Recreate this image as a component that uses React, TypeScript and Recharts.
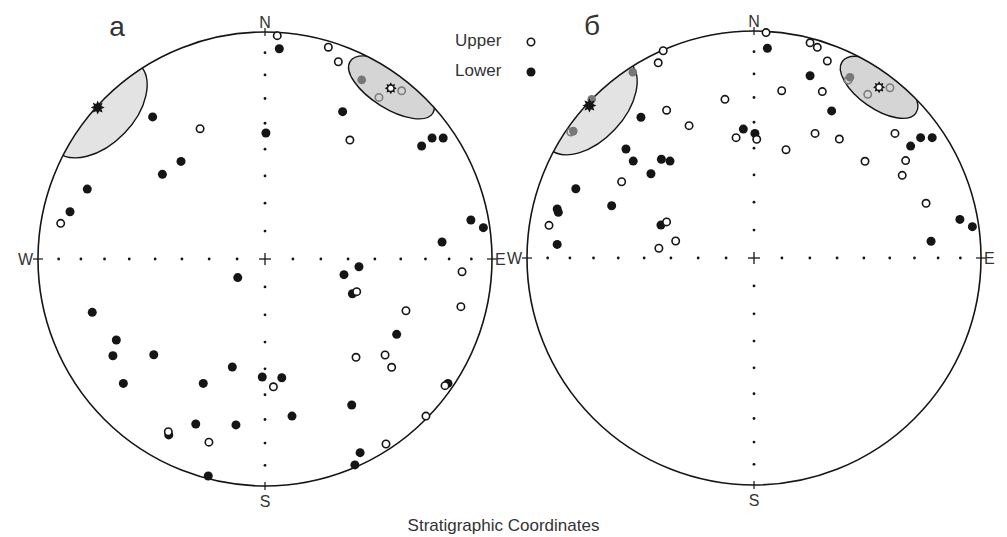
import { ScatterChart, Scatter, XAxis, YAxis } from "recharts";

const R = 227; // net radius, px (plot area is 2R square)
const FONT = "'Liberation Sans', Arial, Helvetica, sans-serif";
const INK = "#151515";
const TEXT = "#333";

// equal-area net ticks, every 10 degrees from the centre
const NET_TICKS = [0.123, 0.246, 0.366, 0.484, 0.598, 0.707, 0.811, 0.909];

type Pt = { x: number; y: number };

// ---- panel а ----
const A_UPPER: Pt[] = [
  { x: 0.054, y: 0.984 }, { x: 0.279, y: 0.933 }, { x: 0.323, y: 0.869 },
  { x: -0.286, y: 0.574 }, { x: 0.374, y: 0.524 }, { x: -0.9, y: 0.157 },
  { x: 0.404, y: -0.144 }, { x: 0.868, y: -0.056 }, { x: 0.863, y: -0.21 },
  { x: 0.621, y: -0.228 }, { x: 0.401, y: -0.433 }, { x: 0.529, y: -0.423 },
  { x: 0.558, y: -0.477 }, { x: 0.037, y: -0.563 }, { x: -0.247, y: -0.807 },
  { x: 0.709, y: -0.692 }, { x: 0.533, y: -0.815 }, { x: -0.426, y: -0.761 },
  { x: 0.793, y: -0.558 },
];
const A_LOWER: Pt[] = [
  { x: 0.063, y: 0.926 }, { x: 0.342, y: 0.649 }, { x: -0.495, y: 0.626 },
  { x: 0.004, y: 0.555 }, { x: 0.69, y: 0.498 }, { x: 0.736, y: 0.533 },
  { x: 0.785, y: 0.533 }, { x: -0.37, y: 0.43 }, { x: -0.452, y: 0.373 },
  { x: -0.783, y: 0.308 }, { x: -0.859, y: 0.208 }, { x: 0.907, y: 0.172 },
  { x: 0.962, y: 0.138 }, { x: 0.78, y: 0.075 }, { x: 0.414, y: -0.034 },
  { x: 0.348, y: -0.069 }, { x: -0.12, y: -0.082 }, { x: 0.385, y: -0.153 },
  { x: -0.761, y: -0.235 }, { x: -0.655, y: -0.357 }, { x: -0.67, y: -0.426 },
  { x: -0.49, y: -0.422 }, { x: 0.58, y: -0.332 }, { x: -0.144, y: -0.476 },
  { x: -0.012, y: -0.52 }, { x: 0.074, y: -0.523 }, { x: -0.624, y: -0.548 },
  { x: -0.272, y: -0.548 }, { x: 0.382, y: -0.643 }, { x: 0.119, y: -0.692 },
  { x: -0.305, y: -0.727 }, { x: -0.128, y: -0.731 }, { x: -0.424, y: -0.775 },
  { x: 0.806, y: -0.548 }, { x: 0.419, y: -0.853 }, { x: 0.396, y: -0.907 },
  { x: -0.25, y: -0.956 },
];
const A_UPPER_IN_CONE: Pt[] = [{ x: 0.502, y: 0.712 }, { x: 0.602, y: 0.741 }];
const A_LOWER_IN_CONE: Pt[] = [{ x: 0.426, y: 0.789 }];
const A_MEAN_LOWER: Pt[] = [{ x: -0.737, y: 0.667 }];
const A_MEAN_UPPER: Pt[] = [{ x: 0.554, y: 0.752 }];
const A_CONES = [
  { x: -0.737, y: 0.667, a: 0.264, b: 0.163, tilt: -46 },
  { x: 0.557, y: 0.756, a: 0.215, b: 0.093, tilt: 32 },
];

// ---- panel б ----
const B_UPPER: Pt[] = [
  { x: 0.053, y: 0.993 }, { x: 0.247, y: 0.948 }, { x: 0.279, y: 0.928 },
  { x: 0.323, y: 0.868 }, { x: -0.4, y: 0.913 }, { x: -0.422, y: 0.86 },
  { x: 0.122, y: 0.737 }, { x: 0.301, y: 0.733 }, { x: -0.128, y: 0.699 },
  { x: -0.385, y: 0.651 }, { x: -0.286, y: 0.583 }, { x: -0.079, y: 0.53 },
  { x: 0.012, y: 0.523 }, { x: 0.269, y: 0.549 }, { x: 0.376, y: 0.524 },
  { x: 0.141, y: 0.477 }, { x: 0.621, y: 0.549 }, { x: 0.489, y: 0.426 },
  { x: 0.668, y: 0.429 }, { x: 0.653, y: 0.364 }, { x: -0.583, y: 0.336 },
  { x: 0.758, y: 0.241 }, { x: -0.903, y: 0.144 }, { x: -0.385, y: 0.159 },
  { x: -0.345, y: 0.075 }, { x: -0.419, y: 0.043 },
];
const B_LOWER: Pt[] = [
  { x: 0.059, y: 0.924 }, { x: 0.247, y: 0.803 }, { x: 0.342, y: 0.648 },
  { x: -0.498, y: 0.62 }, { x: -0.047, y: 0.568 }, { x: 0.004, y: 0.549 },
  { x: -0.564, y: 0.48 }, { x: -0.532, y: 0.427 }, { x: -0.408, y: 0.435 },
  { x: -0.37, y: 0.427 }, { x: -0.454, y: 0.371 }, { x: 0.69, y: 0.493 },
  { x: 0.734, y: 0.53 }, { x: 0.785, y: 0.53 }, { x: -0.785, y: 0.305 },
  { x: -0.627, y: 0.23 }, { x: -0.867, y: 0.216 }, { x: -0.862, y: 0.201 },
  { x: -0.41, y: 0.145 }, { x: 0.907, y: 0.17 }, { x: 0.962, y: 0.138 },
  { x: -0.867, y: 0.06 }, { x: 0.78, y: 0.074 },
];
const B_UPPER_IN_CONE: Pt[] = [
  { x: 0.415, y: 0.784 }, { x: 0.501, y: 0.721 }, { x: 0.599, y: 0.75 },
  { x: -0.807, y: 0.555 },
];
const B_LOWER_IN_CONE: Pt[] = [
  { x: -0.534, y: 0.818 }, { x: 0.423, y: 0.796 }, { x: -0.715, y: 0.699 },
  { x: -0.796, y: 0.559 },
];
const B_MEAN_LOWER: Pt[] = [{ x: -0.725, y: 0.672 }];
const B_MEAN_UPPER: Pt[] = [{ x: 0.551, y: 0.752 }];
const B_CONES = [
  { x: -0.725, y: 0.672, a: 0.26, b: 0.154, tilt: -47 },
  { x: 0.551, y: 0.752, a: 0.198, b: 0.093, tilt: 35 },
];

const CONE_FILLS = ["#e3e3e3", "#d5d5d5"];

function starPoints(cx: number, cy: number, ro: number, ri: number, n = 8) {
  const pts: string[] = [];
  for (let i = 0; i < n * 2; i++) {
    const ang = -Math.PI / 2 + (i * Math.PI) / n;
    const r = i % 2 === 0 ? ro : ri;
    pts.push(`${cx + r * Math.cos(ang)},${cy + r * Math.sin(ang)}`);
  }
  return pts.join(" ");
}

const openDot = (p: any) => (
  <circle cx={p.cx} cy={p.cy} r={3.7} fill="#fff" stroke={INK} strokeWidth={1.6} />
);
const fullDot = (p: any) => <circle cx={p.cx} cy={p.cy} r={4.5} fill={INK} />;
const greyOpen = (p: any) => (
  <circle cx={p.cx} cy={p.cy} r={3.7} fill="none" stroke="#7d7d7d" strokeWidth={1.6} />
);
const greyFull = (p: any) => <circle cx={p.cx} cy={p.cy} r={4.3} fill="#777" />;
const tickDot = (p: any) => <circle cx={p.cx} cy={p.cy} r={1.4} fill={INK} />;
const starFull = (p: any) => (
  <polygon points={starPoints(p.cx, p.cy, 7, 4)} fill={INK} />
);
const starOpen = (p: any) => (
  <g>
    <polygon points={starPoints(p.cx, p.cy, 6, 3.8)} fill={INK} />
    <circle cx={p.cx} cy={p.cy} r={2.5} fill="#fff" />
  </g>
);

type NetProps = {
  id: string;
  title: string;
  titleDx: number;
  upper: Pt[];
  lower: Pt[];
  upperCone: Pt[];
  lowerCone: Pt[];
  meanLower: Pt[];
  meanUpper: Pt[];
  cones: { x: number; y: number; a: number; b: number; tilt: number }[];
  top: number;
  width: number;
};

function Net(props: NetProps) {
  const { id, title, titleDx, upper, lower, upperCone, lowerCone, meanLower, meanUpper, cones, top, width } = props;
  const ticks: Pt[] = NET_TICKS.flatMap((t) => [
    { x: t, y: 0 }, { x: -t, y: 0 }, { x: 0, y: t }, { x: 0, y: -t },
  ]);
  const coneData = cones.map((c, i) => ({ ...c, fill: CONE_FILLS[i] }));

  const clipShape = (p: any) => (
    <defs>
      <clipPath id={id}>
        <circle cx={p.cx} cy={p.cy} r={R} />
      </clipPath>
    </defs>
  );

  const coneShape = (p: any) => {
    const c = p.payload;
    return (
      <g clipPath={`url(#${id})`}>
        <ellipse
          cx={p.cx}
          cy={p.cy}
          rx={c.a * R}
          ry={c.b * R}
          transform={`rotate(${c.tilt} ${p.cx} ${p.cy})`}
          fill={c.fill}
          stroke={INK}
          strokeWidth={1.4}
        />
      </g>
    );
  };

  const frameShape = (p: any) => {
    const { cx, cy } = p;
    const lbl = { fontFamily: FONT, fontSize: 16, fill: TEXT };
    return (
      <g>
        <circle cx={cx} cy={cy} r={R} fill="none" stroke={INK} strokeWidth={1.6} />
        <line x1={cx - 6} x2={cx + 6} y1={cy} y2={cy} stroke={INK} strokeWidth={1.3} />
        <line x1={cx} x2={cx} y1={cy - 6} y2={cy + 6} stroke={INK} strokeWidth={1.3} />
        <line x1={cx - R - 5} x2={cx - R + 5} y1={cy} y2={cy} stroke={INK} strokeWidth={1.2} />
        <line x1={cx + R - 5} x2={cx + R + 5} y1={cy} y2={cy} stroke={INK} strokeWidth={1.2} />
        <line x1={cx} x2={cx} y1={cy - R - 4} y2={cy - R + 4} stroke={INK} strokeWidth={1.2} />
        <line x1={cx} x2={cx} y1={cy + R - 4} y2={cy + R + 4} stroke={INK} strokeWidth={1.2} />
        <text x={cx} y={cy - R - 4} textAnchor="middle" {...lbl}>N</text>
        <text x={cx} y={cy + R + 21} textAnchor="middle" {...lbl}>S</text>
        <text x={cx - R - 5} y={cy + 6} textAnchor="end" {...lbl}>W</text>
        <text x={cx + R + 3} y={cy + 6} textAnchor="start" {...lbl}>E</text>
        <text x={cx + titleDx} y={cy - R + 4} textAnchor="middle" fontFamily={FONT} fontSize={28} fill={TEXT}>
          {title}
        </text>
      </g>
    );
  };

  const centre: Pt[] = [{ x: 0, y: 0 }];

  return (
    <ScatterChart
      width={width}
      height={537}
      margin={{ top, right: width - 38 - 2 * R, bottom: 537 - top - 2 * R, left: 38 }}
    >
      <XAxis type="number" dataKey="x" domain={[-1, 1]} hide />
      <YAxis type="number" dataKey="y" domain={[-1, 1]} hide />
      <Scatter data={centre} shape={clipShape} isAnimationActive={false} />
      <Scatter data={ticks} shape={tickDot} isAnimationActive={false} />
      <Scatter data={coneData} shape={coneShape} isAnimationActive={false} />
      <Scatter data={centre} shape={frameShape} isAnimationActive={false} />
      <Scatter data={lower} shape={fullDot} isAnimationActive={false} />
      <Scatter data={upper} shape={openDot} isAnimationActive={false} />
      <Scatter data={lowerCone} shape={greyFull} isAnimationActive={false} />
      <Scatter data={upperCone} shape={greyOpen} isAnimationActive={false} />
      <Scatter data={meanLower} shape={starFull} isAnimationActive={false} />
      <Scatter data={meanUpper} shape={starOpen} isAnimationActive={false} />
    </ScatterChart>
  );
}

export default function App() {
  return (
    <div
      style={{
        position: "fixed",
        left: 0,
        top: 0,
        width: 1007,
        height: 537,
        background: "#fff",
        fontFamily: FONT,
        color: TEXT,
        overflow: "hidden",
      }}
    >
      <div style={{ position: "absolute", left: 0, top: 0 }}>
        <Net
          id="clipA"
          title="а"
          titleDx={-148}
          upper={A_UPPER}
          lower={A_LOWER}
          upperCone={A_UPPER_IN_CONE}
          lowerCone={A_LOWER_IN_CONE}
          meanLower={A_MEAN_LOWER}
          meanUpper={A_MEAN_UPPER}
          cones={A_CONES}
          top={32}
          width={520}
        />
      </div>
      <div style={{ position: "absolute", left: 489, top: 0 }}>
        <Net
          id="clipB"
          title="б"
          titleDx={-162}
          upper={B_UPPER}
          lower={B_LOWER}
          upperCone={B_UPPER_IN_CONE}
          lowerCone={B_LOWER_IN_CONE}
          meanLower={B_MEAN_LOWER}
          meanUpper={B_MEAN_UPPER}
          cones={B_CONES}
          top={31}
          width={518}
        />
      </div>

      {/* legend */}
      <div style={{ position: "absolute", left: 455, top: 31, fontSize: 17, lineHeight: "20px" }}>Upper</div>
      <div style={{ position: "absolute", left: 455, top: 61, fontSize: 17, lineHeight: "20px" }}>Lower</div>
      <svg style={{ position: "absolute", left: 520, top: 30 }} width={22} height={52}>
        <circle cx={11} cy={12} r={3.7} fill="#fff" stroke={INK} strokeWidth={1.6} />
        <circle cx={11} cy={42} r={4.5} fill={INK} />
      </svg>

      <div
        style={{
          position: "absolute",
          left: 0,
          width: 1007,
          top: 516,
          textAlign: "center",
          fontSize: 17,
          lineHeight: "20px",
        }}
      >
        Stratigraphic Coordinates
      </div>
    </div>
  );
}
